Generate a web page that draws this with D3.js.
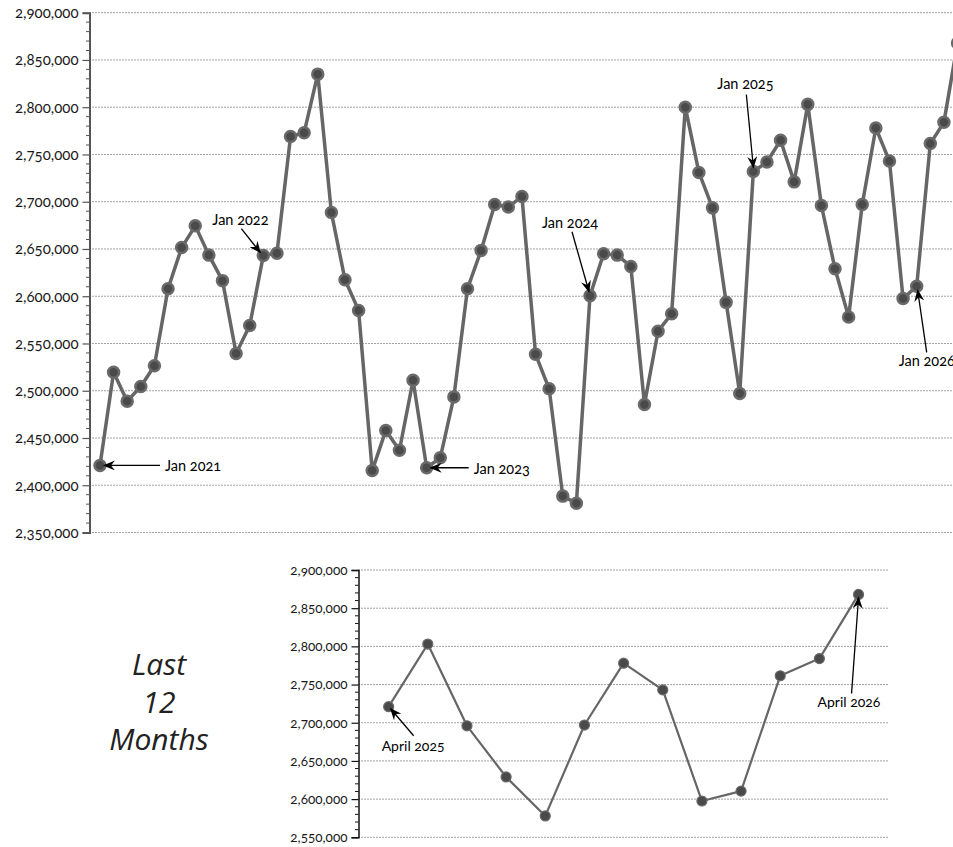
<!DOCTYPE html>
<html>
<head>
<meta charset="utf-8">
<script src="https://cdn.jsdelivr.net/npm/d3@7"></script>
<style>
  html, body { margin: 0; padding: 0; background: #fff; overflow: hidden; }
  svg { display: block; }
  .tick text { font-family: Lato, "Open Sans", sans-serif; font-variant-numeric: oldstyle-nums; font-feature-settings: "onum" 1; fill: #1a1a1a; }
  .ann { font-family: Lato, "Open Sans", sans-serif; font-variant-numeric: oldstyle-nums; font-feature-settings: "onum" 1; fill: #000; }
</style>
</head>
<body>
<script>
// ---- DATA ----
const months = [
  "2021-01","2021-02","2021-03","2021-04","2021-05","2021-06","2021-07","2021-08","2021-09","2021-10","2021-11","2021-12",
  "2022-01","2022-02","2022-03","2022-04","2022-05","2022-06","2022-07","2022-08","2022-09","2022-10","2022-11","2022-12",
  "2023-01","2023-02","2023-03","2023-04","2023-05","2023-06","2023-07","2023-08","2023-09","2023-10","2023-11","2023-12",
  "2024-01","2024-02","2024-03","2024-04","2024-05","2024-06","2024-07","2024-08","2024-09","2024-10","2024-11","2024-12",
  "2025-01","2025-02","2025-03","2025-04","2025-05","2025-06","2025-07","2025-08","2025-09","2025-10","2025-11","2025-12",
  "2026-01","2026-02","2026-03","2026-04"
];
const values = [
  2421000, 2519500, 2489000, 2504500, 2526500, 2608000, 2651500, 2674500, 2643500, 2616500, 2539500, 2569000,
  2643000, 2645500, 2769000, 2773000, 2835000, 2688500, 2617500, 2585000, 2415500, 2458000, 2437000, 2511000,
  2418500, 2429000, 2493500, 2608000, 2648500, 2697000, 2694500, 2705500, 2538500, 2502000, 2388500, 2381000,
  2600500, 2645000, 2643500, 2631500, 2485500, 2563000, 2581500, 2800000, 2731000, 2693500, 2593500, 2497000,
  2732000, 2742000, 2765000, 2721000, 2803000, 2696000, 2629000, 2578000, 2697000, 2778000, 2743000, 2597500,
  2610500, 2761500, 2784000, 2868000
];
const mainTicks = [2350000, 2400000, 2450000, 2500000, 2550000, 2600000, 2650000, 2700000, 2750000, 2800000, 2850000, 2900000];
const recentTicks = [2550000, 2600000, 2650000, 2700000, 2750000, 2800000, 2850000, 2900000];
const mainNotes = [
  {month: "2021-01", label: "Jan 2021"},
  {month: "2022-01", label: "Jan 2022"},
  {month: "2023-01", label: "Jan 2023"},
  {month: "2024-01", label: "Jan 2024"},
  {month: "2025-01", label: "Jan 2025"},
  {month: "2026-01", label: "Jan 2026"}
];
const recentNotes = [
  {month: "2025-04", label: "April 2025"},
  {month: "2026-04", label: "April 2026"}
];
const sideTitle = ["Last", "12", "Months"];

// ---- LAYOUT (offsets only) ----
const noteOffsets = {
  "2021-01": {tx: 65, ty: 6, ax: 60, ay: 0, bx: 4, by: 0},
  "2022-01": {tx: -51, ty: -31, ax: -22, ay: -27, bx: -3, by: -3},
  "2023-01": {tx: 47, ty: 6, ax: 42, ay: 0, bx: 4, by: 0},
  "2024-01": {tx: -48, ty: -68, ax: -18, ay: -64, bx: -1, by: -4},
  "2025-01": {tx: -36, ty: -82, ax: -7, ay: -77, bx: 0, by: -4},
  "2026-01": {tx: -18, ty: 80, ax: 10, ay: 66, bx: 1, by: 4},
  "2025-04": {tx: -7, ty: 44, ax: 25, ay: 29, bx: 2, by: 2},
  "2026-04": {tx: -41, ty: 113, ax: -7, ay: 99, bx: 0, by: 3}
};

const W = 953, H = 847;
const svg = d3.select("body").append("svg").attr("width", W).attr("height", H);

const defs = svg.append("defs");
defs.append("marker")
  .attr("id", "arrow")
  .attr("viewBox", "0 0 12 10")
  .attr("refX", 11).attr("refY", 5)
  .attr("markerWidth", 12).attr("markerHeight", 10)
  .attr("markerUnits", "userSpaceOnUse")
  .attr("orient", "auto")
  .append("path")
  .attr("d", "M0,0 L12,5 L0,10 L4,5 Z")
  .attr("fill", "#000");

const fmt = d3.format(",");

function drawChart(g, cfg) {
  const x = d3.scalePoint().domain(cfg.months).range([cfg.left, cfg.right]).padding(cfg.pad);
  const y = d3.scaleLinear().domain([cfg.ticks[0], cfg.ticks[cfg.ticks.length - 1]]).range([cfg.bottom, cfg.top]);

  // gridlines
  g.append("g").selectAll("line").data(cfg.ticks).join("line")
    .attr("x1", cfg.left).attr("x2", cfg.gridRight)
    .attr("y1", d => y(d)).attr("y2", d => y(d))
    .attr("stroke", "#444").attr("stroke-width", 1)
    .attr("stroke-dasharray", "1,2");

  // minor ticks
  const minor = d3.range(cfg.ticks[0], cfg.ticks[cfg.ticks.length - 1] + 1, 10000).filter(v => v % 50000 !== 0);
  g.append("g").selectAll("line").data(minor).join("line")
    .attr("x1", cfg.left - 3.5).attr("x2", cfg.left)
    .attr("y1", d => y(d)).attr("y2", d => y(d))
    .attr("stroke", cfg.axisColor).attr("stroke-width", 1);

  // axis
  const ax = g.append("g").attr("transform", `translate(${cfg.left},0)`)
    .call(d3.axisLeft(y).tickValues(cfg.ticks).tickFormat(fmt).tickSizeOuter(0).tickSize(7).tickPadding(4));
  ax.select(".domain").attr("stroke", cfg.axisColor).attr("stroke-width", cfg.axisWidth);
  ax.selectAll(".tick line").attr("stroke", cfg.axisColor).attr("stroke-width", 1.2);
  ax.selectAll(".tick text").style("font-size", cfg.tickFont + "px");

  // line
  const pts = cfg.months.map((m, i) => ({m, v: cfg.values[i]}));
  g.append("path").datum(pts)
    .attr("fill", "none")
    .attr("stroke", "#666")
    .attr("stroke-width", cfg.lineWidth)
    .attr("stroke-linejoin", "round")
    .attr("d", d3.line().x(d => x(d.m)).y(d => y(d.v)));

  g.append("g").selectAll("circle").data(pts).join("circle")
    .attr("cx", d => x(d.m)).attr("cy", d => y(d.v))
    .attr("r", cfg.r)
    .attr("fill", "#4a4a4a")
    .attr("stroke", "#6a6a6a")
    .attr("stroke-width", cfg.ringWidth);

  // annotations
  const vmap = new Map(pts.map(d => [d.m, d.v]));
  cfg.notes.forEach(n => {
    const px = x(n.month), py = y(vmap.get(n.month));
    const o = noteOffsets[n.month];
    g.append("line")
      .attr("x1", px + o.ax).attr("y1", py + o.ay)
      .attr("x2", px + o.bx).attr("y2", py + o.by)
      .attr("stroke", "#000").attr("stroke-width", 1.3)
      .attr("marker-end", "url(#arrow)");
    g.append("text").attr("class", "ann")
      .attr("x", px + o.tx).attr("y", py + o.ty)
      .style("font-size", cfg.noteFont + "px")
      .text(n.label);
  });
}

drawChart(svg.append("g"), {
  months: months, values: values, ticks: mainTicks, notes: mainNotes,
  left: 89.5, right: 968, pad: 0.77, top: 12.7, bottom: 532.5, gridRight: 980,
  axisColor: "#555", axisWidth: 2, tickFont: 15, lineWidth: 3.5, r: 5.5, ringWidth: 2.5, noteFont: 14.5
});

const recentMonths = months.slice(-13);
const recentValues = values.slice(-13);
drawChart(svg.append("g"), {
  months: recentMonths, values: recentValues, ticks: recentTicks, notes: recentNotes,
  left: 358.5, right: 888.7, pad: 0.77, top: 570, bottom: 837.3, gridRight: 888.7,
  axisColor: "#111", axisWidth: 1.5, tickFont: 13.5, lineWidth: 2.2, r: 5, ringWidth: 1.2, noteFont: 14
});

// side title
svg.append("text")
  .attr("x", 159).attr("y", 675)
  .attr("text-anchor", "middle")
  .style("font-family", "'Open Sans', sans-serif")
  .style("font-style", "italic")
  .style("font-size", "30px")
  .style("fill", "#222")
  .selectAll("tspan").data(sideTitle).join("tspan")
  .attr("x", 159)
  .attr("dy", (d, i) => i === 0 ? 0 : 37.5)
  .text(d => d);
</script>
</body>
</html>
